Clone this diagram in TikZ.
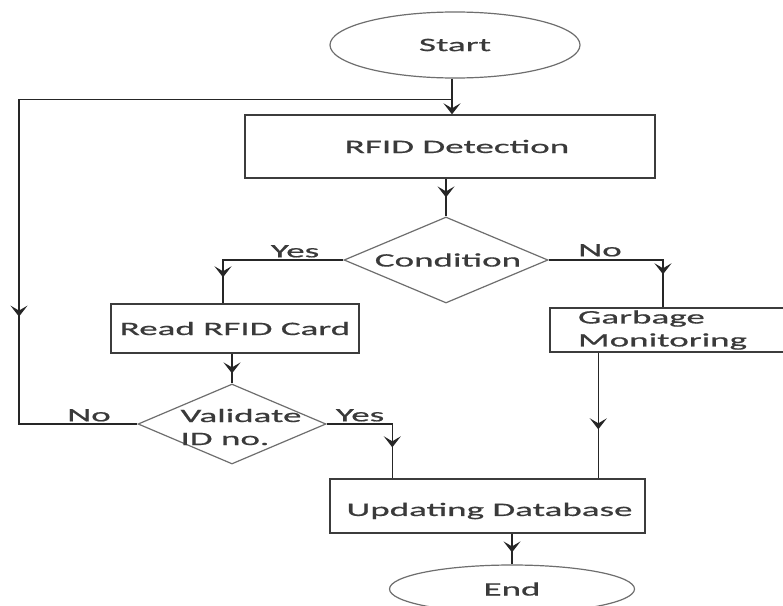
\documentclass[tikz,border=0pt]{standalone}
\usepackage{fontspec}
\usetikzlibrary{shapes.geometric,arrows.meta,decorations.markings,calc}
\newfontfamily\lblfont[FakeStretch=1.95,FakeBold=0.7]{Carlito}
\definecolor{linec}{HTML}{262626}
\definecolor{boxc}{HTML}{3C3C3C}
\definecolor{shapec}{HTML}{6E6E6E}
\definecolor{textc}{HTML}{3A3A3A}
\begin{document}
\begin{tikzpicture}[x=1pt,y=-1pt,
  txt/.style={font=\lblfont\fontsize{19}{23}\selectfont, text=textc},
  boxnode/.style={draw=boxc, line width=1.4pt, rectangle, inner sep=0pt, txt},
  ovalnode/.style={draw=shapec, line width=1.2pt, ellipse, inner sep=0pt, txt},
  dianode/.style={draw=shapec, line width=1.2pt, diamond, inner sep=0pt},
  conn/.style={draw=linec, line width=1.4pt},
  endtip/.style={-{Stealth[length=11pt,width=17pt,inset=5pt]}},
  tipback/.style={postaction={decorate}, decoration={markings, mark=at position -#1 with {\arrow{Stealth[length=11pt,width=17pt,inset=5pt]}}}},
  tipfwd/.style={postaction={decorate}, decoration={markings, mark=at position #1 with {\arrow{Stealth[length=11pt,width=17pt,inset=5pt]}}}},
  ]
\useasboundingbox (0,0) rectangle (783,605);
\fill[white] (0,0) rectangle (783,605);

% nodes
\node[ovalnode, minimum width=250pt, minimum height=66pt] (start) at (455,45) {Start};
\node[boxnode, minimum width=410pt, minimum height=63pt] (rfid) at (450,146.5) {\hspace{14pt}RFID Detection};
\node[dianode, minimum width=204pt, minimum height=86pt,
      label={[txt, inner sep=0pt, xshift=2pt]center:Condition}] (cond) at (446,260) {};
\node[boxnode, minimum width=248pt, minimum height=49pt] (read) at (235,328.5) {Read RFID Card};
\node[boxnode, minimum width=242pt, minimum height=44pt, inner xsep=28pt, inner ysep=1pt,
      text width=186pt, align=left] (garb) at (671,330) {Garbage\\Monitoring};
\node[dianode, minimum width=188pt, minimum height=80pt,
      label={[txt, inner sep=0pt, align=left, xshift=9pt, yshift=-3pt]center:Validate\\ID no.}] (val) at (232,424) {};
\node[boxnode, minimum width=315pt, minimum height=54pt,
      label={[txt, inner sep=0pt, xshift=2pt, yshift=-5pt]center:Updating Database}] (upd) at (487.5,506) {};
\node[ovalnode, minimum width=245pt, minimum height=48pt] (end) at (512,589) {End};

% branch labels
\node[txt, anchor=south] (yes1) at (295,261) {Yes};
\node[txt, anchor=south] (no1) at (600,260) {No};
\node[txt, anchor=south] (no2) at (89,425) {No};
\node[txt, anchor=south] (yes2) at (360,425) {Yes};

% helper coordinates
\path (start.south) ++(-3,21) coordinate (j1);
\coordinate (lx) at (19,0);
\path (read.north) ++(-12,0) coordinate (rin);
\path (upd.north west) ++(63,0) coordinate (uin);
\path (garb.south west) ++(49,0) coordinate (gout);

% connectors
\draw[conn, endtip] (j1 |- start.south) -- (j1 |- rfid.north);
\draw[conn, tipback=19pt] (cond.north |- rfid.south) -- (cond.north);
\draw[conn, tipback=26pt] (cond.west) -| (rin);
\draw[conn, tipback=33pt] (cond.east) -| ([xshift=-8pt]garb.north);
\draw[conn, tipback=10pt] (val.north |- read.south) -- (val.north);
\draw[conn, tipback=31pt] (val.east) -| (uin);
\draw[conn, tipback=49pt] (gout) -- (gout |- upd.north);
\draw[conn, tipback=12pt] (end.north |- upd.south) -- (end.north);
\draw[conn, tipfwd=650pt] (j1) -- (j1 -| lx) -- (lx |- val.west) -- (val.west);
\end{tikzpicture}
\end{document}
